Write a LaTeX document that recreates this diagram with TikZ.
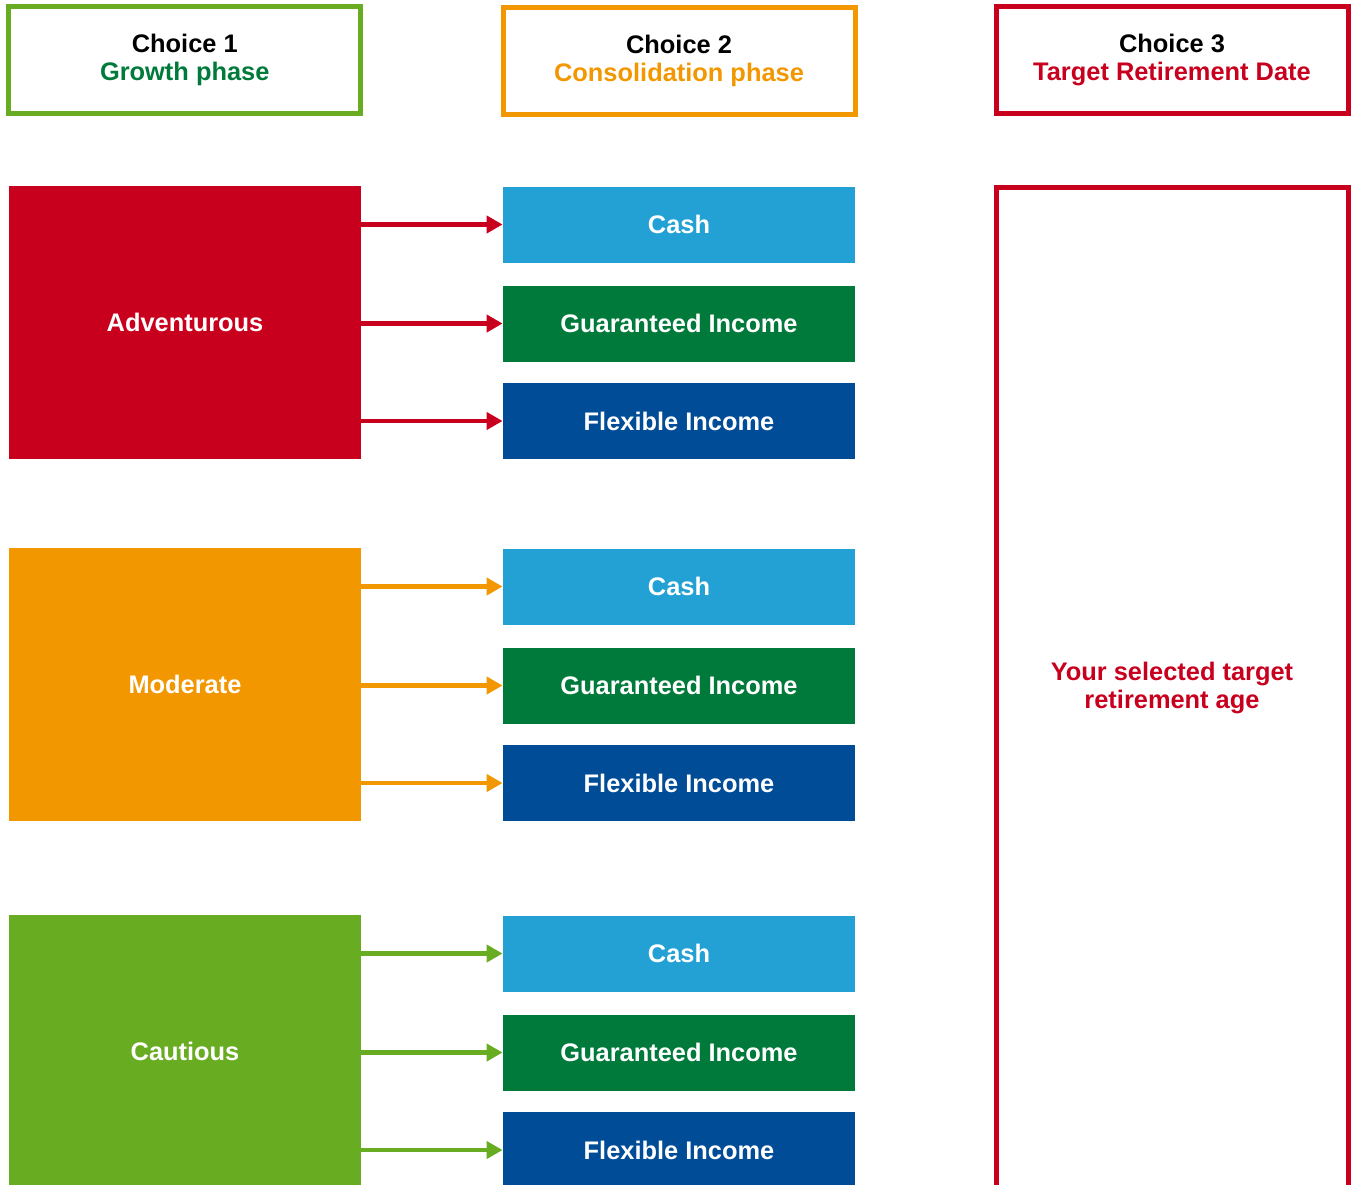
\documentclass[tikz,border=0pt]{standalone}
\usepackage{fontspec}
\setmainfont{Liberation Sans}
\usetikzlibrary{arrows.meta}

\definecolor{riskred}{HTML}{C8001E}
\definecolor{riskorange}{HTML}{F39700}
\definecolor{riskgreen}{HTML}{68AC22}
\definecolor{darkgreen}{HTML}{007A3B}
\definecolor{cashblue}{HTML}{23A1D4}
\definecolor{navyblue}{HTML}{004C97}

\tikzset{
  bold/.style={font=\bfseries\fontsize{12.7}{14}\selectfont},
  choice/.style={bold, draw=#1, line width=2.5pt, minimum width=176pt, minimum height=53.5pt, align=center},
  risk/.style={bold, fill=#1, text=white, minimum width=176pt, minimum height=136.5pt, inner sep=0pt},
  fund/.style={bold, fill=#1, text=white, minimum width=176pt, minimum height=38pt, inner sep=0pt},
  feed/.style={line width=2.4pt, -{Triangle[length=8pt,width=8.5pt]}}
}

\begin{document}
\begin{tikzpicture}[x=0.5pt,y=-0.5pt]
 \useasboundingbox (0,0) rectangle (1353,1184);
 \clip (0,0) rectangle (1353,1184);
% the three choices
 \node[choice=riskgreen] (choice1) at (184.75,59.75) {Choice 1\\\textcolor{darkgreen}{Growth phase}};
 \node[choice=riskorange] (choice2) at (679,60.75) {Choice 2\\\textcolor{riskorange}{Consolidation phase}};
 \node[choice=riskred] (choice3) at (1172,59.75) {Choice 3\\\textcolor{riskred}{Target Retirement Date}};
% target date column
 \node[draw=riskred, line width=2.5pt, minimum width=176pt, minimum height=504pt] (tdf) at (1172,691) {};
 \node[bold, text=riskred, align=center] (age) at (1172,688) {Your selected target\\retirement age};
% growth funds and their consolidation funds
 \foreach \name/\lab/\col/\y in {adv/Adventurous/riskred/186, mod/Moderate/riskorange/548, cau/Cautious/riskgreen/915} {
   \node[risk=\col] (\name) at (185,\y+136.5) {\lab};
   \node[fund=cashblue] (\name-cash) at (679,\y+38.5) {Cash};
   \node[fund=darkgreen] (\name-gi) at (679,\y+137.5) {Guaranteed Income};
   \node[fund=navyblue] (\name-fi) at (679,\y+235) {Flexible Income};
   \foreach \f in {cash, gi, fi}
     \draw[feed, draw=\col] (\name.east |- \name-\f) -- (\name-\f.west);
 }
\end{tikzpicture}
\end{document}
